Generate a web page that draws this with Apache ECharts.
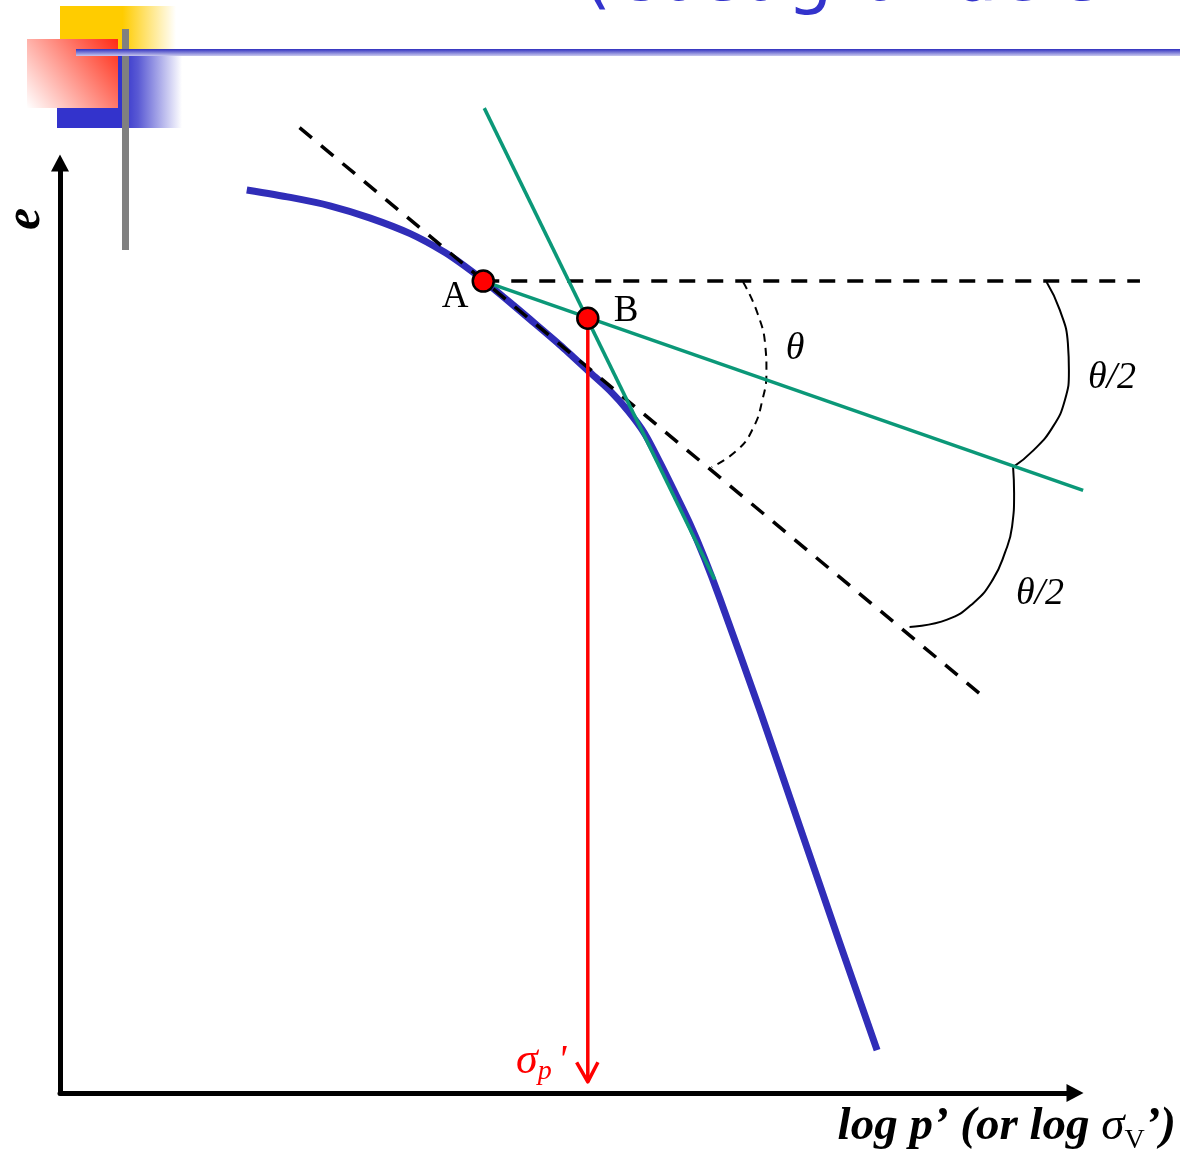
<!DOCTYPE html>
<html>
<head>
<meta charset="utf-8">
<script src="https://cdn.jsdelivr.net/npm/echarts@6/dist/echarts.min.js"></script>
<style>html,body{margin:0;padding:0;background:#fff}#c{width:1180px;height:1152px}</style>
</head>
<body>
<div id="c"></div>
<script>
// e - log p' compression curve (schematic units)
const curveX = [1.84, 2.27, 2.66, 3.05, 3.45, 3.79, 3.99, 4.17, 4.38, 4.63, 4.93, 5.22, 5.42, 5.60, 5.76, 5.91, 6.06, 6.21, 6.35, 6.50, 6.90, 7.29, 7.68, 8.05];
const curveE = [9.71, 9.63, 9.54, 9.41, 9.24, 9.04, 8.89, 8.74, 8.55, 8.32, 8.04, 7.75, 7.55, 7.33, 7.09, 6.78, 6.45, 6.11, 5.75, 5.32, 4.10, 2.86, 1.62, 0.46];
// tangent at A (dashed)
const tangentX = [2.36, 9.11];
const tangentE = [10.38, 4.25];
// horizontal through A (dashed)
const horizX = [4.17, 10.64];
const horizE = [8.73, 8.73];
// bisector from A (green)
const bisectX = [4.17, 10.08];
const bisectE = [8.73, 6.48];
// extension of the straight (virgin) portion (green)
const steepX = [4.18, 6.45];
const steepE = [10.59, 5.52];
// sigma_p' drop line
const dropX = [5.20, 5.20];
const dropE = [8.33, 0.12];
const arrowX = [5.09, 5.20, 5.30];
const arrowE = [0.33, 0.12, 0.33];
// angle arcs
const thetaArcX = [6.73, 6.87, 6.95, 6.96, 6.92, 6.82, 6.67, 6.42];
const thetaArcE = [8.72, 8.39, 8.02, 7.77, 7.45, 7.13, 6.91, 6.73];
const halfArc1X = [9.72, 9.85, 9.93, 9.94, 9.90, 9.78, 9.59, 9.39];
const halfArc1E = [8.72, 8.42, 8.06, 7.77, 7.45, 7.16, 6.91, 6.73];
const halfArc2X = [9.39, 9.40, 9.38, 9.31, 9.19, 9.00, 8.74, 8.37];
const halfArc2E = [6.73, 6.45, 6.09, 5.81, 5.52, 5.27, 5.09, 5.01];
// points A and B
const pointNames = ['A', 'B'];
const pointX = [4.17, 5.20];
const pointE = [8.73, 8.33];

const zip = (xs, ys) => xs.map((x, i) => [x, ys[i]]);
const chart = echarts.init(document.getElementById('c'));
const serif = '"Liberation Serif", "DejaVu Serif", serif';

function lineS(xs, ys, color, width, type, z, smooth) {
  return {
    type: 'line', xAxisIndex: 1, yAxisIndex: 1, data: zip(xs, ys), symbol: 'none', clip: false,
    smooth: smooth || false,
    lineStyle: { color: color, width: width, type: type || 'solid', cap: 'butt', join: 'round' }, z: z, silent: true
  };
}
const hiddenAxis = { type: 'value', min: 0, max: 11, show: false };

chart.setOption({
  animation: false,
  grid: [
    { left: 60, top: 163, width: 1015, height: 930 },
    { left: 60, top: 70, width: 1116.5, height: 1023 }
  ],
  xAxis: [{
    type: 'value', min: 0, max: 10, gridIndex: 0,
    axisLine: { show: true, symbol: ['none', 'triangle'], symbolSize: [18, 17], lineStyle: { color: '#000', width: 5 } },
    axisTick: { show: false }, axisLabel: { show: false }, splitLine: { show: false }
  }, Object.assign({ gridIndex: 1 }, hiddenAxis)],
  yAxis: [{
    type: 'value', min: 0, max: 10, gridIndex: 0,
    axisLine: { show: true, symbol: ['none', 'triangle'], symbolSize: [18, 17], lineStyle: { color: '#000', width: 5 } },
    axisTick: { show: false }, axisLabel: { show: false }, splitLine: { show: false }
  }, Object.assign({ gridIndex: 1 }, hiddenAxis)],
  series: [
    lineS(curveX, curveE, '#302db8', 7, 'solid', 2, 0.25),
    lineS(tangentX, tangentE, '#000', 3.5, [16, 12], 3),
    lineS(horizX, horizE, '#000', 3.5, [16, 12], 3),
    lineS(thetaArcX, thetaArcE, '#000', 2, [8, 6], 3, true),
    lineS(halfArc1X, halfArc1E, '#000', 2, 'solid', 3, true),
    lineS(halfArc2X, halfArc2E, '#000', 2, 'solid', 3, true),
    lineS(bisectX, bisectE, '#0b9878', 3.5, 'solid', 4),
    lineS(steepX, steepE, '#0b9878', 3.5, 'solid', 4),
    lineS(dropX, dropE, '#ff0000', 3.5, 'solid', 5),
    lineS(arrowX, arrowE, '#ff0000', 3.5, 'solid', 5),
    {
      type: 'scatter', xAxisIndex: 1, yAxisIndex: 1,
      data: zip(pointX, pointE).map((p, i) => ({ name: pointNames[i], value: p })),
      symbol: 'circle', symbolSize: 21, clip: false, z: 6, silent: true,
      itemStyle: { color: '#ff0000', borderColor: '#000', borderWidth: 2.5, opacity: 1 }
    }
  ],
  graphic: [
    // slide decoration
    { type: 'rect', z: 1, shape: { x: 60, y: 6, width: 116, height: 50 },
      style: { fill: { type: 'linear', x: 0, y: 0, x2: 1, y2: 0, colorStops: [
        { offset: 0, color: '#ffcc00' }, { offset: 0.54, color: '#ffcc00' }, { offset: 1, color: '#ffffff' }] } } },
    { type: 'rect', z: 2, shape: { x: 57, y: 55, width: 125, height: 73 },
      style: { fill: { type: 'linear', x: 0, y: 0, x2: 1, y2: 0, colorStops: [
        { offset: 0, color: '#3333cc' }, { offset: 0.52, color: '#3333cc' }, { offset: 0.65, color: '#5a5ad4' }, { offset: 1, color: '#ffffff' }] } } },
    { type: 'rect', z: 3, shape: { x: 27, y: 39, width: 91, height: 69 },
      style: { fill: { type: 'linear', x: 1, y: 0, x2: 0, y2: 1, colorStops: [
        { offset: 0, color: '#ff2a14' }, { offset: 1, color: '#ffffff' }] } } },
    { type: 'rect', z: 4, shape: { x: 122, y: 29, width: 7, height: 221 }, style: { fill: '#808080' } },
    { type: 'rect', z: 5, shape: { x: 76, y: 49, width: 1104, height: 7 },
      style: { fill: { type: 'linear', x: 0, y: 0, x2: 0, y2: 1, colorStops: [
        { offset: 0, color: '#2f2fbf' }, { offset: 1, color: '#c8c8ee' }] } } },
    // clipped title (only its lowest part shows at the top edge)
    { type: 'text', z: 5, x: 583, y: -19, style: { text: '(Casagrande\u2019s', x: 0, y: 0, textAlign: 'left', textVerticalAlign: 'middle', verticalAlign: 'middle',
      fontSize: 72, fontFamily: '"DejaVu Sans", sans-serif', fill: '#3333cc' } },
    // labels
    { type: 'text', z: 10, style: { text: 'A', x: 455, y: 297, textAlign: 'center', textVerticalAlign: 'middle', fontSize: 37, fontFamily: serif, fill: '#000' } },
    { type: 'text', z: 10, style: { text: 'B', x: 626, y: 311, textAlign: 'center', textVerticalAlign: 'middle', fontSize: 37, fontFamily: serif, fill: '#000' } },
    { type: 'text', z: 10, style: { text: '\u03b8', x: 795, y: 349, textAlign: 'center', textVerticalAlign: 'middle', fontSize: 38, fontStyle: 'italic', fontFamily: serif, fill: '#000' } },
    { type: 'text', z: 10, style: { text: '\u03b8/2', x: 1112, y: 378, textAlign: 'center', textVerticalAlign: 'middle', fontSize: 38, fontStyle: 'italic', fontFamily: serif, fill: '#000' } },
    { type: 'text', z: 10, style: { text: '\u03b8/2', x: 1040, y: 594, textAlign: 'center', textVerticalAlign: 'middle', fontSize: 38, fontStyle: 'italic', fontFamily: serif, fill: '#000' } },
    { type: 'text', z: 10, x: 26, y: 219, rotation: Math.PI / 2,
      style: { text: 'e', x: 0, y: 0, textAlign: 'center', textVerticalAlign: 'middle', fontSize: 50, fontStyle: 'italic', fontWeight: 'bold', fontFamily: serif, fill: '#000' } },
    { type: 'text', z: 10, style: {
      text: "{m|\u03c3}{s|p}{q|'}", x: 516, y: 1061, textAlign: 'left', textVerticalAlign: 'middle',
      rich: {
        m: { fontSize: 44, fontStyle: 'italic', fontFamily: serif, fill: '#ff0000', lineHeight: 50, verticalAlign: 'middle' },
        s: { fontSize: 28, fontStyle: 'italic', fontFamily: serif, fill: '#ff0000', lineHeight: 26, verticalAlign: 'bottom' },
        q: { fontSize: 40, fontStyle: 'italic', fontFamily: serif, fill: '#ff0000', lineHeight: 50, verticalAlign: 'middle', padding: [0, 0, 0, 6] }
      } } },
    { type: 'text', z: 10, style: {
      text: '{b|log p\u2019 (or log }{g|\u03c3}{s|V}{b|\u2019)}', x: 1176, y: 1127, textAlign: 'right', textVerticalAlign: 'middle',
      rich: {
        b: { fontSize: 47, fontStyle: 'italic', fontWeight: 'bold', fontFamily: serif, fill: '#000', lineHeight: 56, verticalAlign: 'middle' },
        g: { fontSize: 47, fontStyle: 'italic', fontFamily: serif, fill: '#000', lineHeight: 56, verticalAlign: 'middle' },
        s: { fontSize: 28, fontFamily: serif, fill: '#000', lineHeight: 28, verticalAlign: 'bottom' }
      } } }
  ]
});
</script>
</body>
</html>
